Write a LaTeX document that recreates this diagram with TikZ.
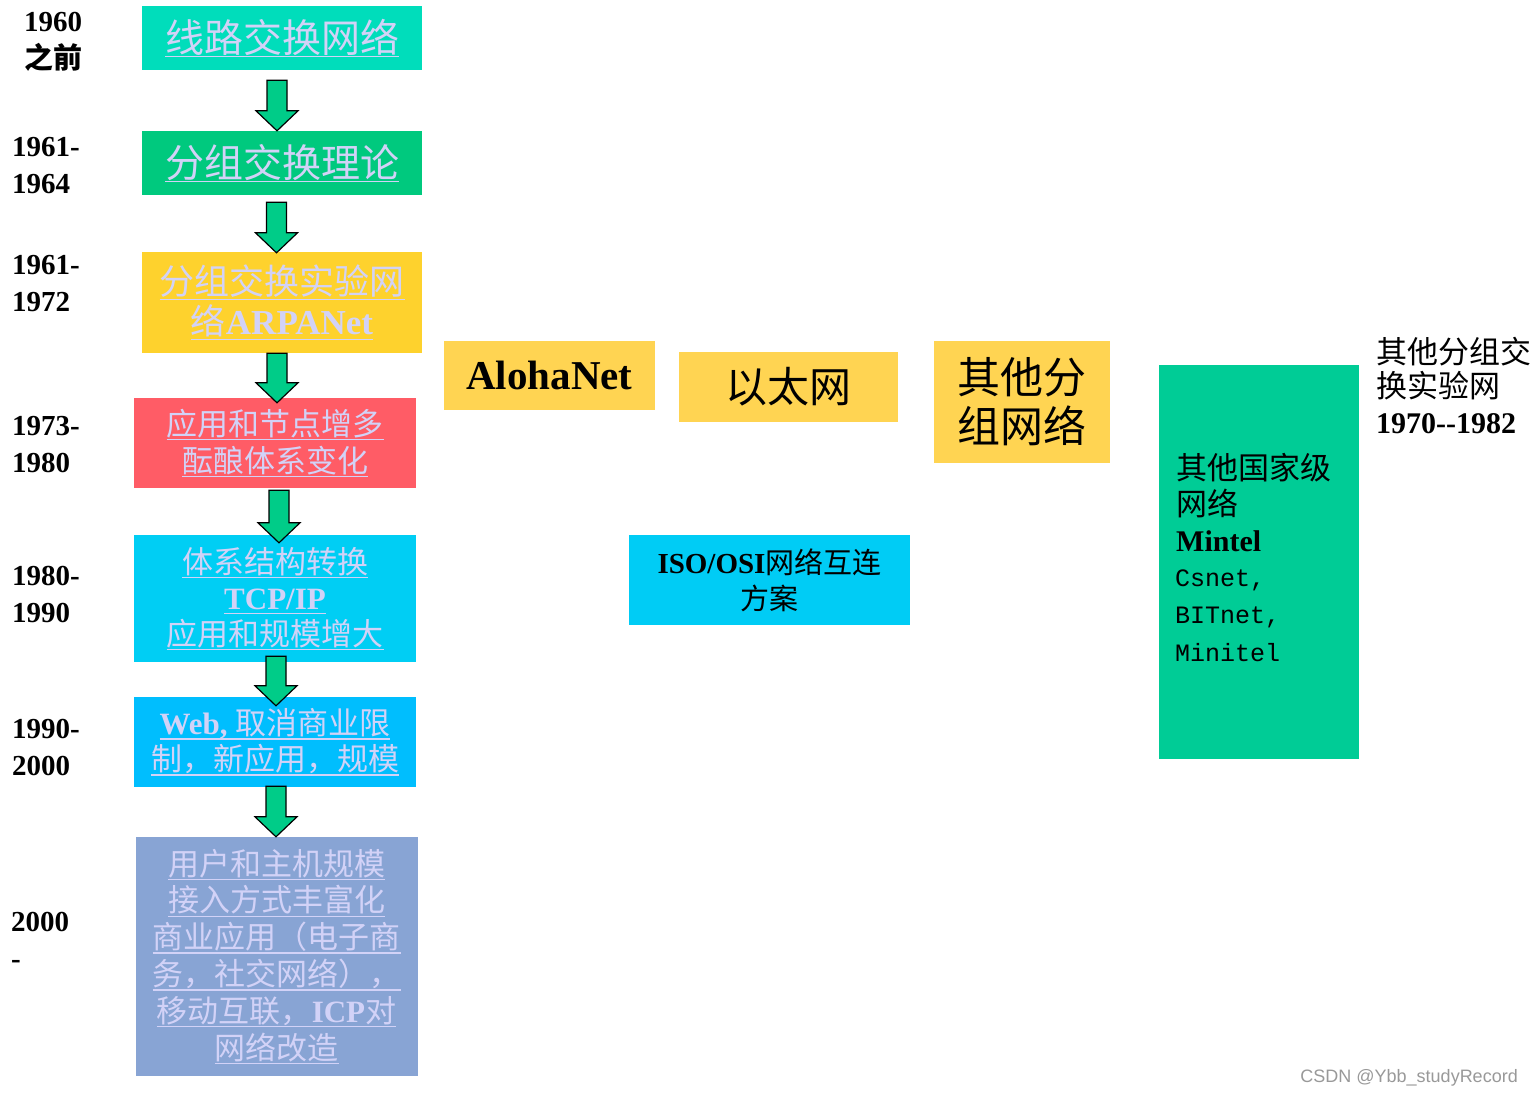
\documentclass[tikz,border=0pt]{standalone}
\usepackage{fontspec}
\setmainfont{Liberation Serif}
\setmonofont{Liberation Mono}
\newfontfamily\cjk{Noto Sans CJK SC}
\newfontfamily\wmfont{Liberation Sans}
\usetikzlibrary{calc}
\definecolor{cA}{HTML}{00DDBB}
\definecolor{cB}{HTML}{00C97E}
\definecolor{cC}{HTML}{FED22D}
\definecolor{cD}{HTML}{FF5C66}
\definecolor{cE}{HTML}{00CEF4}
\definecolor{cF}{HTML}{00BEFE}
\definecolor{cG}{HTML}{88A4D4}
\definecolor{yel}{HTML}{FFD452}
\definecolor{iso}{HTML}{00CCF5}
\definecolor{tall}{HTML}{00CC96}
\definecolor{arrg}{HTML}{00CC88}
\definecolor{lav}{HTML}{D2D2F7}
\newcommand\myul[1]{\setbox0=\hbox{#1}\rlap{\color{lav}\rule[-5pt]{\wd0}{1.3pt}}\box0}
\newcommand\barrow[5]{%
  \path let \p1=(#1.south), \p2=(#2.north) in
    [fill=arrg,draw=black,line width=1.2pt,line join=miter]
    (\x1+#3pt-10pt,\y1-#4pt) -- (\x1+#3pt+10pt,\y1-#4pt)
    -- (\x1+#3pt+10pt,\y2-#5pt+20pt) -- (\x1+#3pt+21pt,\y2-#5pt+20pt)
    -- (\x1+#3pt,\y2-#5pt) -- (\x1+#3pt-21pt,\y2-#5pt+20pt)
    -- (\x1+#3pt-10pt,\y2-#5pt+20pt) -- cycle;}
\tikzset{
  lbox/.style={inner sep=0pt,align=center,text=lav},
  yearlbl/.style={anchor=west,align=left,inner sep=0pt,font=\bfseries\fontsize{29}{37}\selectfont},
  rbox/.style={inner sep=0pt,align=center,text=black},
  cjkline/.style={anchor=west,inner sep=0pt,font=\cjk\fontsize{31}{36}\selectfont},
  boldline/.style={anchor=west,inner sep=0pt,font=\bfseries\fontsize{30}{36}\selectfont},
  monoline/.style={anchor=west,inner sep=0pt,font=\ttfamily\fontsize{25}{30}\selectfont},
}
\begin{document}
\begin{tikzpicture}[x=1pt,y=-1pt]
\useasboundingbox[fill=white] (0,0) rectangle (1532,1098);
% left column boxes
\node[lbox,fill=cA,minimum width=280,minimum height=64,font=\cjk\fontsize{39}{46}\selectfont] (b1) at (282,38)
  {\myul{线路交换网络}};
\node[lbox,fill=cB,minimum width=280,minimum height=64,font=\cjk\fontsize{39}{46}\selectfont] (b2) at (282,163)
  {\myul{分组交换理论}};
\node[lbox,fill=cC,minimum width=280,minimum height=101,font=\fontsize{35}{40}\selectfont] (b3) at (282,302.5)
  {\myul{\cjk 分组交换实验网}\\\myul{{\cjk 络}\bfseries ARPANet}};
\node[lbox,fill=cD,minimum width=282,minimum height=90,font=\cjk\fontsize{31}{37}\selectfont] (b4) at (275,443)
  {\myul{应用和节点增多}\\\myul{酝酿体系变化}};
\node[lbox,fill=cE,minimum width=282,minimum height=127,font=\fontsize{31}{36}\selectfont] (b5) at (275,598.5)
  {\myul{\cjk 体系结构转换}\\\myul{\bfseries TCP/IP}\\\myul{\cjk 应用和规模增大}};
\node[lbox,fill=cF,minimum width=282,minimum height=90,font=\fontsize{31}{36}\selectfont] (b6) at (275,742)
  {\myul{{\bfseries Web,} {\cjk 取消商业限}}\\\myul{\cjk 制，新应用，规模}};
\node[lbox,fill=cG,minimum width=282,minimum height=239,font=\fontsize{31}{36.8}\selectfont] (b7) at (276.5,956.5)
  {\myul{\cjk 用户和主机规模}\\\myul{\cjk 接入方式丰富化}\\\myul{\cjk 商业应用（电子商}\\\myul{\cjk 务，社交网络），}\\\myul{{\cjk 移动互联，}{\bfseries ICP}{\cjk 对}}\\\myul{\cjk 网络改造}};
% arrows
\barrow{b1}{b2}{-5}{10}{0}
\barrow{b2}{b3}{-5.5}{7}{1}
\barrow{b3}{b4}{-5}{0}{5}
\barrow{b4}{b5}{4}{2}{8}
\barrow{b5}{b6}{1}{-6}{9}
\barrow{b6}{b7}{1}{-1}{0}
% year labels
\node[yearlbl] (y1) at (24,42) {1960\\{\cjk 之前}};
\node[yearlbl] (y2) at (12,166) {1961-\\1964};
\node[yearlbl] (y3) at (12,284) {1961-\\1972};
\node[yearlbl] (y4) at (12,445) {1973-\\1980};
\node[yearlbl] (y5) at (12,594) {1980-\\1990};
\node[yearlbl] (y6) at (12,747) {1990-\\2000};
\node[yearlbl] (y7) at (11,940) {2000\\-};
% right boxes
\node[rbox,fill=yel,minimum width=211,minimum height=69,font=\bfseries\fontsize{41}{46}\selectfont] (aloha) at (549.5,375.5)
  {AlohaNet};
\node[rbox,fill=yel,minimum width=219,minimum height=70,font=\cjk\fontsize{42}{48}\selectfont] (eth) at (788.5,387)
  {以太网};
\node[rbox,fill=yel,minimum width=176,minimum height=122,font=\cjk\fontsize{43}{49}\selectfont] (other) at (1022,402)
  {其他分\\组网络};
\node[rbox,fill=iso,minimum width=281,minimum height=90,font=\fontsize{29}{36}\selectfont] (osi) at (769.5,580)
  {{\bfseries ISO/OSI}{\cjk 网络互连}\\{\cjk 方案}};
\node[fill=tall,minimum width=200,minimum height=394,inner sep=0pt] (nat) at (1259,562) {};
\node[cjkline] (n1) at (1176,468) {其他国家级};
\node[cjkline] (n2) at (1176,503) {网络};
\node[boldline] (n3) at (1176,541) {Mintel};
\node[monoline] (n4) at (1175,580) {Csnet,};
\node[monoline] (n5) at (1175,617) {BITnet,};
\node[monoline] (n6) at (1175,653) {Minitel};
\node[cjkline] (e1) at (1376,352) {其他分组交};
\node[cjkline] (e2) at (1376,386) {换实验网};
\node[boldline] (e3) at (1376,424) {1970-{}-1982};
% watermark
\node[anchor=east,inner sep=0pt,text=black!40,font=\wmfont\fontsize{18}{20}\selectfont] (wm) at (1518,1078) {CSDN @Ybb\_studyRecord};
\end{tikzpicture}
\end{document}
